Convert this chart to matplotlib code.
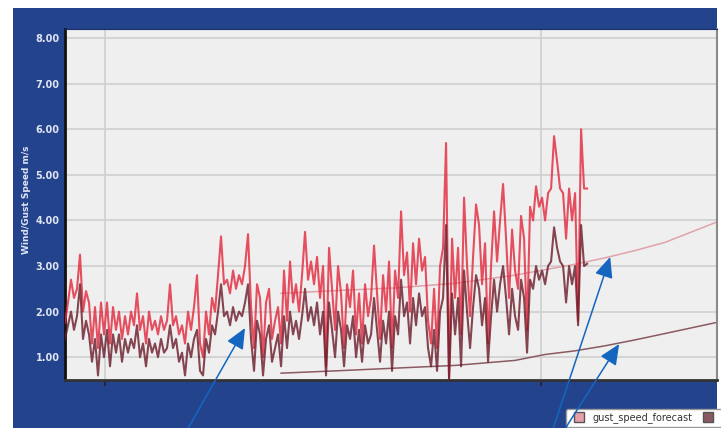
import matplotlib.pyplot as plt
from matplotlib.patches import Rectangle
from matplotlib.lines import Line2D

# measured gust / wind speed (m/s), one sample per step
gust_speed = [
    1.75, 2.2, 2.7, 2.3, 2.5, 3.25, 2.0, 2.45, 2.2, 1.3,
    2.1, 1.2, 2.2, 1.5, 2.2, 1.3, 2.1, 1.6, 2.0, 1.4,
    1.9, 1.5, 2.0, 1.7, 2.4, 1.6, 1.9, 1.3, 2.0, 1.6,
    1.8, 1.5, 1.9, 1.6, 1.8, 2.6, 1.7, 1.9, 1.5, 1.7,
    1.3, 2.0, 1.6, 2.1, 2.8, 1.3, 1.0, 2.0, 1.5, 2.3,
    2.0, 2.8, 3.65, 2.6, 2.7, 2.4, 2.9, 2.5, 2.8, 2.6,
    3.0, 3.7, 2.1, 1.2, 2.6, 2.3, 1.0, 2.2, 2.5, 1.4,
    1.8, 2.1, 1.3, 2.9, 1.8, 3.1, 2.2, 2.6, 2.0, 2.8,
    3.75, 2.7, 3.1, 2.6, 3.2, 2.3, 3.0, 0.8, 3.4, 2.5,
    1.6, 3.0, 2.4, 1.2, 2.6, 2.1, 2.9, 1.5, 2.4, 1.3,
    2.6, 1.9, 2.3, 3.45, 2.4, 1.4, 2.8, 2.0, 3.1, 1.2,
    2.9, 2.3, 4.2, 2.8, 3.3, 2.0, 3.5, 2.6, 3.6, 2.9,
    3.2, 1.8, 1.3, 2.5, 1.2, 3.0, 3.4, 5.7, 0.55, 3.6,
    2.3, 3.4, 1.5, 4.5, 3.0, 1.9, 3.2, 4.35, 3.9, 2.6,
    3.5, 1.3, 3.0, 4.2, 3.1, 4.0, 4.8, 3.6, 2.3, 3.8,
    2.9, 2.5, 4.1, 3.6, 1.6, 4.3, 4.0, 4.75, 4.3, 4.5,
    4.0, 4.6, 4.7, 5.85, 5.3, 4.7, 4.6, 3.6, 4.7, 4.0,
    4.6, 1.8, 6.0, 4.7, 4.7,
]
wind_speed = [
    1.4, 1.7, 2.0, 1.6, 1.9, 2.6, 1.4, 1.8, 1.5, 0.9,
    1.4, 0.6, 1.5, 1.0, 1.6, 0.8, 1.5, 1.1, 1.5, 0.9,
    1.4, 1.1, 1.4, 1.2, 1.7, 1.0, 1.3, 0.8, 1.4, 1.1,
    1.3, 1.0, 1.4, 1.1, 1.2, 1.7, 1.2, 1.4, 0.9, 1.1,
    0.6, 1.3, 1.0, 1.4, 1.6, 0.7, 0.6, 1.4, 1.1, 1.7,
    1.5, 2.0, 2.6, 1.9, 2.0, 1.7, 2.1, 1.8, 2.0, 1.9,
    2.2, 2.6, 1.4, 0.7, 1.8, 1.5, 0.6, 1.4, 1.7, 0.9,
    1.2, 1.5, 0.8, 1.9, 1.2, 2.0, 1.5, 1.8, 1.4, 1.9,
    2.5, 1.8, 2.1, 1.7, 2.2, 1.5, 2.0, 0.6, 2.2, 1.6,
    1.0, 2.0, 1.6, 0.8, 1.7, 1.4, 1.9, 1.0, 1.6, 0.9,
    1.7, 1.3, 1.5, 2.3, 1.6, 0.9, 1.8, 1.3, 2.0, 0.7,
    1.9, 1.5, 2.7, 1.9, 2.2, 1.3, 2.3, 1.7, 2.4, 1.9,
    2.1, 1.2, 0.8, 1.6, 0.7, 2.0, 2.3, 3.9, 0.5, 2.4,
    1.5, 2.3, 0.8, 2.9, 2.0, 1.2, 2.1, 2.8, 2.5, 1.7,
    2.3, 0.9, 1.9, 2.7, 2.0, 2.6, 3.0, 2.3, 1.5, 2.5,
    1.9, 1.6, 2.7, 2.3, 1.1, 2.7, 2.5, 3.0, 2.7, 2.9,
    2.6, 3.0, 3.1, 3.85, 3.4, 3.1, 3.0, 2.2, 3.0, 2.6,
    3.0, 1.7, 3.9, 3.0, 3.05,
]
steps = list(range(len(gust_speed)))

# forecast curves
forecast_steps = [72, 90, 110, 130, 150, 160, 170, 180, 190, 200, 217]
gust_speed_forecast = [2.40, 2.46, 2.52, 2.62, 2.80, 2.92, 3.04, 3.18, 3.34, 3.52, 3.96]
wind_speed_forecast = [0.65, 0.70, 0.76, 0.82, 0.93, 1.06, 1.14, 1.25, 1.38, 1.52, 1.76]

y_ticks = [1, 2, 3, 4, 5, 6, 7, 8]
x_grid = [13.3, 158.7]

navy = '#24438d'
fig = plt.figure(figsize=(7.21, 4.28), dpi=100)
fig.patch.set_facecolor('white')
fig.add_artist(Rectangle((13 / 721, 0), 704 / 721, 420 / 428, transform=fig.transFigure,
                         facecolor=navy, edgecolor='none', zorder=-1))

ax = fig.add_axes([65 / 721, 48 / 428, 652 / 721, 351 / 428])
ax.set_facecolor('#efefef')

ax.plot(steps, gust_speed, color='#e3263a', lw=1.5, alpha=0.8, zorder=3)
ax.plot(steps, wind_speed, color='#6a1a28', lw=1.5, alpha=0.8, zorder=4)
ax.plot(forecast_steps, gust_speed_forecast, color='#dfa3aa', lw=1.1, zorder=2)
ax.plot(forecast_steps, wind_speed_forecast, color='#8a5a62', lw=1.1, zorder=2)

ax.set_xlim(0, 217.3)
ax.set_ylim(0.5, 8.2)
ax.set_yticks(y_ticks)
ax.set_yticklabels(['%.2f' % v for v in y_ticks])
ax.set_xticks(x_grid)
ax.set_xticklabels([])
ax.tick_params(axis='y', length=0, pad=4, labelsize=7, labelcolor='#dfe4f2')
ax.tick_params(axis='x', length=4, width=1.2, color='#222222')
for lbl in ax.get_yticklabels():
    lbl.set_fontweight('bold')
ax.grid(True, color='#cfcfcf', lw=1.2)
ax.set_axisbelow(True)

ax.spines['left'].set_color('#111111')
ax.spines['left'].set_linewidth(2)
ax.spines['bottom'].set_color('#333333')
ax.spines['bottom'].set_linewidth(2)
ax.spines['top'].set_color('#1a2f66')
ax.spines['right'].set_color('#8a8a8a')
ax.spines['right'].set_linewidth(1.5)

fig.text(27 / 721, 1 - 200 / 428, 'Wind/Gust Speed m/s', rotation=90, ha='center', va='center',
         fontsize=6.5, color='#dfe4f2', fontweight='bold')

handles = [
    Line2D([], [], ls='none', marker='s', markersize=7, markerfacecolor='#e6a0aa',
           markeredgecolor='#555555', label='gust_speed_forecast'),
    Line2D([], [], ls='none', marker='s', markersize=7, markerfacecolor='#8a5a62',
           markeredgecolor='#555555', label='wind_speed_forecast'),
]
leg = ax.legend(handles=handles, ncol=2, loc='upper left', bbox_to_anchor=(566 / 721, 1 - 409 / 428),
                bbox_transform=fig.transFigure, borderaxespad=0, fontsize=7, frameon=True,
                fancybox=True, framealpha=1, handletextpad=0.4, columnspacing=0.6,
                borderpad=0.35, labelcolor='#333333')
leg.get_frame().set_edgecolor('#999999')
leg.get_frame().set_facecolor('white')
leg.set_zorder(6)

# blue callout arrows
arrow_kw = dict(arrowstyle='-|>,head_length=0.9,head_width=0.4', color='#1466bf', lw=1.1,
                mutation_scale=14, shrinkA=0, shrinkB=0)
ax.annotate('', xy=(60, 1.64), xytext=(186, -4), textcoords='figure pixels',
            arrowprops=arrow_kw, annotation_clip=False, zorder=10)
ax.annotate('', xy=(181.7, 3.2), xytext=(552, -4), textcoords='figure pixels',
            arrowprops=arrow_kw, annotation_clip=False, zorder=10)
ax.annotate('', xy=(184.7, 1.29), xytext=(563, -4), textcoords='figure pixels',
            arrowprops=arrow_kw, annotation_clip=False, zorder=10)

plt.savefig('out.png', dpi=100)
